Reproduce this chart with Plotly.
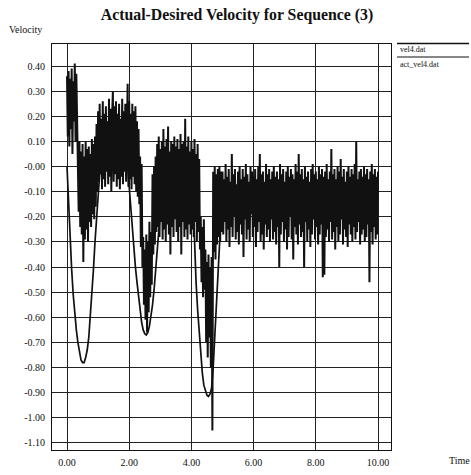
import plotly.graph_objects as go

# Sampling interval of the measured velocity log (seconds)
DT = 0.025

# Measured velocity (act_vel4.dat), one value per sample, t = 0 .. 10 s
act_vel4 = [
    0.36, 0.12, 0.38, 0.08, 0.35, 0.15, 0.39, 0.05, 0.34, 0.18, 0.41, 0.10, 0.37, 0.14, 0.08, -0.18, 0.10, -0.24, 0.06, -0.27,
    0.09, -0.38, 0.04, -0.29, 0.10, -0.25, 0.07, -0.30, 0.08, -0.22, 0.05, -0.24, 0.11, -0.19, 0.09, -0.21, 0.12, -0.16, 0.17, -0.10,
    0.22, -0.06, 0.25, -0.03, 0.19, -0.09, 0.26, -0.05, 0.21, -0.08, 0.24, -0.02, 0.18, -0.07, 0.27, -0.04, 0.23, -0.10, 0.20, 0.30,
    -0.06, 0.24, -0.03, 0.26, -0.08, 0.21, -0.05, 0.25, -0.09, 0.19, -0.04, 0.27, -0.07, 0.22, -0.02, 0.25, -0.06, 0.23, 0.33, -0.08,
    0.26, -0.05, 0.21, -0.09, 0.25, -0.04, 0.22, -0.07, 0.24, -0.10, 0.18, -0.12, 0.15, -0.15, 0.04, -0.32, 0.01, -0.40, -0.28, -0.55,
    -0.33, -0.61, -0.27, -0.66, -0.30, -0.58, -0.22, -0.52, -0.26, -0.47, -0.03, -0.35, 0.00, -0.31, 0.04, -0.26, 0.09, -0.24, 0.12, -0.28,
    0.07, -0.22, 0.10, -0.29, 0.15, -0.25, 0.08, -0.30, 0.11, -0.23, 0.16, -0.27, 0.06, -0.35, 0.10, -0.24, 0.09, -0.28, 0.12, -0.21,
    0.08, -0.26, 0.11, -0.30, 0.07, -0.24, 0.13, -0.35, 0.09, -0.22, 0.10, -0.28, 0.19, -0.25, 0.08, -0.29, 0.12, -0.23, 0.06, -0.27,
    0.10, -0.25, 0.07, -0.28, 0.11, -0.22, 0.05, -0.30, 0.09, -0.26, 0.03, -0.33, -0.20, -0.46, -0.24, -0.52, -0.21, -0.49, -0.33, -0.70,
    -0.38, -0.76, -0.35, -0.68, -0.40, -0.80, -0.36, -1.05, -0.02, -0.34, 0.00, -0.37, -0.03, -0.31, -0.01, -0.28, 0.00, -0.30, -0.02, -0.26,
    -0.02, -0.27, -0.05, -0.22, 0.01, -0.30, -0.04, -0.25, -0.01, -0.32, -0.06, -0.24, 0.05, -0.28, -0.03, -0.20, -0.01, -0.29, -0.07, -0.26,
    -0.02, -0.31, 0.00, -0.23, -0.05, -0.27, -0.01, -0.36, -0.04, -0.21, 0.01, -0.29, -0.03, -0.25, -0.06, -0.30, 0.00, -0.19, -0.02, -0.28,
    -0.04, -0.24, -0.01, -0.32, -0.05, -0.26, 0.00, -0.22, 0.05, -0.30, -0.03, -0.27, -0.02, -0.33, -0.06, -0.23, 0.01, -0.28, -0.03, -0.25,
    -0.01, -0.30, -0.05, -0.21, -0.02, -0.29, 0.00, -0.26, -0.04, -0.31, -0.02, -0.24, -0.05, -0.40, 0.01, -0.27, -0.03, -0.22, -0.01, -0.30,
    -0.06, -0.25, -0.02, -0.33, 0.00, -0.28, -0.04, -0.20, -0.01, -0.29, -0.03, -0.37, -0.05, -0.24, 0.01, -0.27, -0.02, -0.31, 0.05, -0.23,
    -0.03, -0.28, -0.01, -0.26, -0.05, -0.40, 0.00, -0.22, -0.04, -0.30, -0.02, -0.25, -0.06, -0.32, -0.01, -0.27, 0.01, -0.21, -0.03, -0.29,
    -0.02, -0.24, -0.05, -0.31, 0.00, -0.27, -0.03, -0.23, -0.01, -0.44, -0.04, -0.43, -0.02, -0.28, 0.01, -0.25, -0.05, -0.30, -0.02, -0.22,
    0.07, -0.29, -0.03, -0.26, -0.01, -0.33, -0.05, -0.24, 0.00, -0.30, -0.02, -0.27, 0.03, -0.21, -0.04, -0.31, -0.01, -0.25, -0.06, -0.28,
    -0.02, -0.32, 0.00, -0.23, -0.04, -0.27, -0.01, -0.30, -0.03, -0.24, 0.01, -0.29, 0.10, -0.26, -0.05, -0.22, -0.02, -0.31, -0.01, -0.27,
    -0.04, -0.25, 0.00, -0.30, -0.03, -0.28, -0.01, -0.23, -0.05, -0.46, -0.02, -0.26, 0.01, -0.31, -0.03, -0.24, -0.01, -0.29, -0.04, -0.27,
    -0.02,
]
act_time = [round(i * DT, 3) for i in range(len(act_vel4))]

# Desired velocity profile (vel4.dat): breakpoints of the commanded trajectory
vel4_time = [
    0.00, 0.05, 0.10, 0.15, 0.20, 0.25, 0.30, 0.35, 0.40, 0.45, 0.50, 0.55, 0.60, 0.65, 0.70, 0.75,
    0.80, 0.85, 0.90, 0.95, 1.00, 1.05, 1.10, 1.15,
    1.95, 2.00, 2.05, 2.10, 2.15, 2.20, 2.25, 2.30, 2.35, 2.40, 2.45, 2.50, 2.55, 2.60, 2.65, 2.70,
    2.75, 2.80, 2.85, 2.90, 2.95, 3.00, 3.05, 3.10, 3.15,
    4.00, 4.05, 4.10, 4.15, 4.20, 4.25, 4.30, 4.35, 4.40, 4.45, 4.50, 4.55, 4.60, 4.65, 4.70, 4.75,
    4.80, 4.85, 4.90, 4.95, 5.00,
    10.00,
]
vel4 = [
    0.00, -0.16, -0.29, -0.41, -0.51, -0.59, -0.65, -0.70, -0.74, -0.77, -0.78, -0.78, -0.76, -0.73, -0.68, -0.60,
    -0.51, -0.41, -0.30, -0.20, -0.10, 0.00, 0.06, 0.08,
    0.06, -0.08, -0.17, -0.25, -0.33, -0.40, -0.46, -0.52, -0.58, -0.62, -0.65, -0.665, -0.67, -0.66, -0.635, -0.60,
    -0.55, -0.49, -0.42, -0.34, -0.26, -0.18, -0.10, -0.05, -0.04,
    -0.04, -0.12, -0.30, -0.46, -0.57, -0.66, -0.76, -0.82, -0.87, -0.895, -0.91, -0.915, -0.905, -0.88, -0.80, -0.68,
    -0.55, -0.42, -0.30, -0.20, -0.15,
    -0.15,
]

# Axis ticks
x_ticks = [0, 2, 4, 6, 8, 10]
x_ticktext = ["0.00", "2.00", "4.00", "6.00", "8.00", "10.00"]
y_ticks = [0.4, 0.3, 0.2, 0.1, 0.0, -0.1, -0.2, -0.3, -0.4, -0.5, -0.6, -0.7, -0.8, -0.9, -1.0, -1.1]
y_ticktext = ["0.40", "0.30", "0.20", "0.10", "-0.00", "-0.10", "-0.20", "-0.30", "-0.40", "-0.50",
              "-0.60", "-0.70", "-0.80", "-0.90", "-1.00", "-1.10"]

series_names = ["vel4.dat", "act_vel4.dat"]

# Page geometry (pixels)
W, H = 471, 475
PL, PR, PT, PB = 52, 391, 44, 450


def fx(xp):
    return (xp - PL) / (PR - PL)


def fy(yp):
    return (PB - yp) / (PB - PT)


SERIF = "Liberation Serif, Times New Roman, serif"
INK = "#111111"

fig = go.Figure()
fig.add_trace(go.Scatter(
    x=vel4_time, y=vel4, mode="lines", name=series_names[0],
    line=dict(color=INK, width=1.7), showlegend=False,
))
fig.add_trace(go.Scatter(
    x=act_time, y=act_vel4, mode="lines", name=series_names[1],
    line=dict(color=INK, width=2.0), showlegend=False,
))

annotations = [
    dict(text="Velocity", x=fx(7), y=fy(29), xanchor="left", yanchor="middle",
         font=dict(family=SERIF, size=10, color=INK)),
    dict(text="Time", x=fx(447), y=fy(461), xanchor="left", yanchor="middle",
         font=dict(family=SERIF, size=10, color=INK)),
    dict(text=series_names[0], x=fx(398), y=fy(49), xanchor="left", yanchor="middle",
         font=dict(family=SERIF, size=8, color=INK)),
    dict(text=series_names[1], x=fx(398), y=fy(64), xanchor="left", yanchor="middle",
         font=dict(family=SERIF, size=8, color=INK)),
]
for a in annotations:
    a.update(xref="paper", yref="paper", showarrow=False)

shapes = [
    dict(type="line", xref="paper", yref="paper", x0=fx(397), x1=fx(469), y0=fy(43.5), y1=fy(43.5),
         line=dict(color=INK, width=1.6)),
    dict(type="line", xref="paper", yref="paper", x0=fx(397), x1=fx(469), y0=fy(57), y1=fy(57),
         line=dict(color=INK, width=1.2)),
]

fig.update_layout(
    width=W, height=H,
    margin=dict(l=PL, r=W - PR, t=PT, b=H - PB, pad=0, autoexpand=False),
    paper_bgcolor="white", plot_bgcolor="white",
    title=dict(text="<b>Actual-Desired Velocity for Sequence (3)</b>",
               x=237 / W, y=1 - 14 / H, xanchor="center", yanchor="middle",
               font=dict(family=SERIF, size=15.8, color=INK)),
    annotations=annotations,
    shapes=shapes,
    xaxis=dict(
        range=[(PL - 67) / 31.1, (PR - 67) / 31.1],
        tickvals=x_ticks, ticktext=x_ticktext,
        showgrid=True, gridcolor="#222222", gridwidth=1,
        zeroline=False, showline=True, mirror=True, linecolor=INK, linewidth=1,
        ticks="", ticklabelstandoff=3, automargin=False,
        tickfont=dict(family=SERIF, size=10, color=INK),
    ),
    yaxis=dict(
        range=[-1.128, 0.488],
        tickvals=y_ticks, ticktext=y_ticktext,
        showgrid=True, gridcolor="#222222", gridwidth=1,
        zeroline=False, showline=True, mirror=True, linecolor=INK, linewidth=1,
        ticks="", ticklabelstandoff=4, automargin=False,
        tickfont=dict(family=SERIF, size=10, color=INK),
    ),
)

fig.write_html("out.html")
